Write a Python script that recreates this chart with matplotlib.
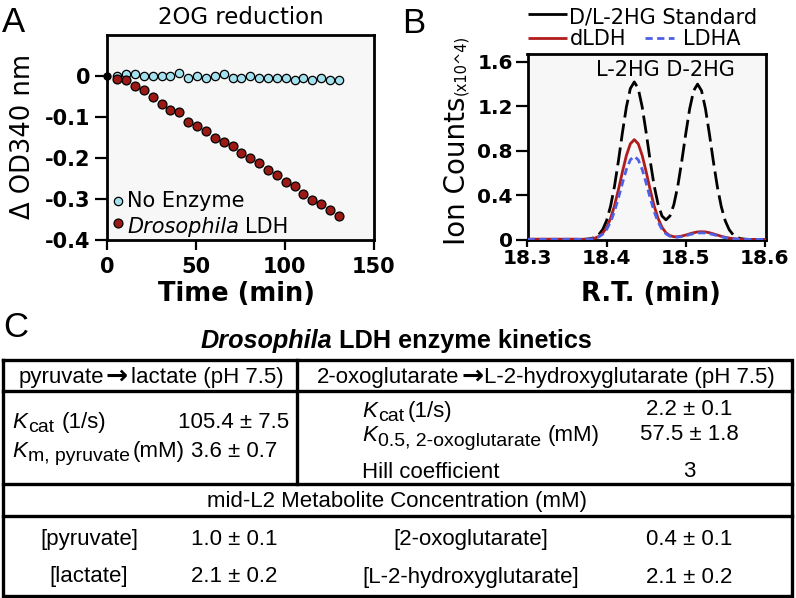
import matplotlib
matplotlib.use("Agg")
import matplotlib.pyplot as plt

plt.rcParams['axes.unicode_minus'] = False
plt.rcParams['font.family'] = ['DejaVu Sans']

# ---------------- Panel A data ----------------
time_min = [5.5, 10.5, 15.5, 20.5, 25.5, 30.5, 35.5, 40.5, 45.5, 50.5, 55.5, 60.5, 65.5,
            70.5, 75.5, 80.5, 85.5, 90.5, 95.5, 100.5, 105.5, 110.5, 115.5, 120.5, 125.5, 130.5]
no_enzyme = [0.001, 0.005, 0.006, -0.001, -0.001, -0.001, -0.001, 0.007, -0.004, -0.001,
             -0.005, -0.001, 0.006, -0.005, -0.005, -0.001, -0.005, -0.005, -0.005, -0.005,
             -0.010, -0.005, -0.010, -0.005, -0.010, -0.010]
dros_ldh = [-0.008, -0.009, -0.024, -0.033, -0.052, -0.068, -0.082, -0.087, -0.112, -0.121,
            -0.133, -0.150, -0.160, -0.171, -0.189, -0.199, -0.212, -0.230, -0.242, -0.259,
            -0.268, -0.287, -0.303, -0.312, -0.328, -0.341]
start_t = [0]
start_v = [0]
a_xticks = [0, 50, 100, 150]
a_xlabels = ['0', '50', '100', '150']
a_yticks = [0, -0.1, -0.2, -0.3, -0.4]
a_ylabels = ['0', '-0.1', '-0.2', '-0.3', '-0.4']

# ---------------- Panel B data ----------------
rt = [18.300, 18.305, 18.310, 18.315, 18.320, 18.325, 18.330, 18.335, 18.340, 18.345,
      18.350, 18.355, 18.360, 18.365, 18.370, 18.375, 18.380, 18.385, 18.390, 18.395,
      18.400, 18.405, 18.410, 18.415, 18.420, 18.425, 18.430, 18.435, 18.440, 18.445,
      18.450, 18.455, 18.460, 18.465, 18.470, 18.475, 18.480, 18.485, 18.490, 18.495,
      18.500, 18.505, 18.510, 18.515, 18.520, 18.525, 18.530, 18.535, 18.540, 18.545,
      18.550, 18.555, 18.560, 18.565, 18.570, 18.575, 18.580, 18.585, 18.590, 18.595,
      18.600, 18.605, 18.610]
standard = [0, 0, 0, 0, 0, 0, 0, 0, 0, 0,
            0, 0, 0, 0.001, 0.001, 0.003, 0.008, 0.019, 0.043, 0.089,
            0.170, 0.300, 0.481, 0.711, 0.963, 1.194, 1.360, 1.420, 1.360, 1.194,
            0.964, 0.714, 0.488, 0.319, 0.212, 0.177, 0.211, 0.314, 0.482, 0.704,
            0.950, 1.177, 1.341, 1.400, 1.341, 1.177, 0.949, 0.701, 0.475, 0.295,
            0.168, 0.088, 0.042, 0.018, 0.007, 0.003, 0.001, 0, 0, 0,
            0, 0, 0]
dldh = [0.003, 0.003, 0.003, 0.003, 0.003, 0.003, 0.003, 0.003, 0.003, 0.003,
        0.003, 0.003, 0.003, 0.002, 0.002, 0.003, 0.005, 0.012, 0.027, 0.057,
        0.108, 0.190, 0.305, 0.451, 0.610, 0.757, 0.862, 0.900, 0.862, 0.757,
        0.610, 0.451, 0.305, 0.191, 0.110, 0.061, 0.035, 0.025, 0.025, 0.031,
        0.040, 0.051, 0.061, 0.068, 0.070, 0.068, 0.061, 0.051, 0.040, 0.029,
        0.020, 0.013, 0.008, 0.004, 0.002, 0.001, 0.001, 0.001, 0.001, 0.001,
        0.001, 0.001, 0.001]
ldha = [0.002, 0.002, 0.002, 0.002, 0.002, 0.002, 0.002, 0.002, 0.002, 0.002,
        0.002, 0.002, 0.002, 0.002, 0.002, 0.002, 0.004, 0.010, 0.023, 0.047,
        0.090, 0.158, 0.254, 0.376, 0.508, 0.631, 0.718, 0.750, 0.718, 0.631,
        0.508, 0.376, 0.254, 0.159, 0.092, 0.051, 0.029, 0.021, 0.021, 0.026,
        0.034, 0.044, 0.052, 0.058, 0.060, 0.058, 0.052, 0.044, 0.034, 0.025,
        0.017, 0.011, 0.007, 0.004, 0.002, 0.001, 0.001, 0.001, 0.001, 0.001,
        0.001, 0.001, 0.001]
b_xticks = [18.3, 18.4, 18.5, 18.6]
b_xlabels = ['18.3', '18.4', '18.5', '18.6']
b_yticks = [0, 0.4, 0.8, 1.2, 1.6]
b_ylabels = ['0', '0.4', '0.8', '1.2', '1.6']

# ---------------- Panel C table content ----------------
table_title = ['Drosophila', 'LDH enzyme kinetics']
header_left = ['pyruvate', '\u2192', 'lactate (pH 7.5)']
header_right = ['2-oxoglutarate', '\u2192', 'L-2-hydroxyglutarate (pH 7.5)']
kin_left_params = [('K', 'cat', '(1/s)'), ('K', 'm, pyruvate', '(mM)')]
kin_left_values = ['105.4 \u00b1 7.5', '3.6 \u00b1 0.7']
kin_right_params = [('K', 'cat', '(1/s)'), ('K', '0.5, 2-oxoglutarate', '(mM)')]
kin_right_extra = 'Hill coefficient'
kin_right_values = ['2.2 \u00b1 0.1', '57.5 \u00b1 1.8', '3']
metab_header = 'mid-L2 Metabolite Concentration (mM)'
metab_left_names = ['[pyruvate]', '[lactate]']
metab_left_values = ['1.0 \u00b1 0.1', '2.1 \u00b1 0.2']
metab_right_names = ['[2-oxoglutarate]', '[L-2-hydroxyglutarate]']
metab_right_values = ['0.4 \u00b1 0.1', '2.1 \u00b1 0.2']

# ---------------- colours ----------------
cyan = '#a3e1ee'
dred = '#9b1a15'
red_line = '#b01c1c'
blue_line = '#4d60e6'
bg = '#f7f7f7'

W, H = 796, 598
fig = plt.figure(figsize=(W / 100, H / 100), dpi=100)


def frame(l, t, r, b):
    return [l / W, 1 - b / H, (r - l) / W, (b - t) / H]


def style_axes(ax):
    ax.set_facecolor(bg)
    for s in ax.spines.values():
        s.set_linewidth(2.0)
        s.set_color('black')


# ---------------- Panel A ----------------
axA = fig.add_axes(frame(107.5, 35, 373.5, 240))
style_axes(axA)
axA.plot(time_min, no_enzyme, 'o', ms=6.0, mfc=cyan, mec='black', mew=0.9,
         clip_on=False, zorder=3)
axA.plot(time_min, dros_ldh, 'o', ms=6.4, mfc=dred, mec='black', mew=0.9,
         clip_on=False, zorder=3)
axA.plot(start_t, start_v, 'o', ms=5, color='black', clip_on=False, zorder=4)
axA.set_xlim(0, 150)
axA.set_ylim(-0.4, 0.1)
axA.set_xticks(a_xticks, a_xlabels, fontsize=15, fontweight='bold')
axA.set_yticks(a_yticks, a_ylabels, fontsize=15, fontweight='bold')
axA.tick_params(axis='x', direction='out', length=7, width=1.6, pad=5)
axA.tick_params(axis='y', direction='out', length=8.5, width=1.6, pad=4)
axA.set_title('2OG reduction', fontsize=16.5, pad=8)
axA.set_xlabel('Time (min)', fontsize=18.5, fontweight='bold')
axA.xaxis.set_label_coords(0.486, -0.2)
axA.set_ylabel('\u0394 OD340 nm', fontsize=18.5)
axA.yaxis.set_label_coords(-0.27, 0.507)

# ---------------- Panel B ----------------
axB = fig.add_axes(frame(527.5, 53.5, 766.0, 239.5))
style_axes(axB)
axB.plot(rt, standard, color='black', lw=2.0, dashes=(6.5, 2.2), zorder=2)
axB.plot(rt, dldh, color=red_line, lw=2.0, zorder=3)
axB.plot(rt, ldha, color=blue_line, lw=2.0, dashes=(2.6, 1.6), zorder=4)
axB.set_xlim(18.3, 18.6015)
axB.set_ylim(0, 1.676)
axB.set_xticks(b_xticks, b_xlabels, fontsize=14.5, fontweight='bold')
axB.set_yticks(b_yticks, b_ylabels, fontsize=14.5, fontweight='bold')
axB.tick_params(axis='x', direction='out', length=5, width=1.6, pad=1.5)
axB.tick_params(axis='y', direction='out', length=9, width=1.6, pad=1.5)
axB.set_xlabel('R.T. (min)', fontsize=18.5, fontweight='bold')
axB.xaxis.set_label_coords(0.518, -0.223)
axB.set_ylabel('Ion Counts', fontsize=20)
axB.yaxis.set_label_coords(-0.235, 0.371)

# ---------------- overlay (pixel coordinates) ----------------
ov = fig.add_axes([0, 0, 1, 1], zorder=10)
ov.set_xlim(0, W)
ov.set_ylim(H, 0)
ov.axis('off')
ov.patch.set_alpha(0)
renderer = fig.canvas.get_renderer()


def runs(x, y, parts, ha='left', **common):
    """Place consecutive text runs; numbers in parts are gaps in pixels."""
    objs = []
    cur = x
    for p in parts:
        if isinstance(p, (int, float)):
            cur += p
            continue
        s, kw = p
        kw2 = dict(common)
        kw2.update(kw)
        dy = kw2.pop('dy', 0)
        t = ov.text(cur, y + dy, s, ha='left', va='baseline', **kw2)
        cur += t.get_window_extent(renderer).width
        objs.append(t)
    if ha == 'center':
        shift = (cur - x) / 2
        for t in objs:
            px, py = t.get_position()
            t.set_x(px - shift)
    return objs


# panel letters
TF = 'Liberation Sans'
ov.text(2, 32, 'A', fontsize=25, family=TF, va='baseline')
ov.text(402, 33, 'B', fontsize=25, family=TF, va='baseline')
ov.text(3, 337, 'C', fontsize=25, family=TF, va='baseline')

# Panel A legend
ov.plot([118], [200.7], 'o', ms=6.0, mfc=cyan, mec='black', mew=0.9)
ov.plot([118.3], [223.3], 'o', ms=6.4, mfc=dred, mec='black', mew=0.9)
ov.text(127, 207, 'No Enzyme', fontsize=15, va='baseline')
runs(127, 233, [('Drosophila', {'style': 'italic'}), 6, ('LDH', {})], fontsize=15)

# Panel B legend
ov.plot([528, 567], [14.3, 14.3], color='black', lw=2.0, solid_capstyle='butt')
ov.text(569, 23.3, 'D/L-2HG Standard', fontsize=15, va='baseline')
ov.plot([528, 567], [38.3, 38.3], color=red_line, lw=2.0, solid_capstyle='butt')
ov.text(570, 45, 'dLDH', fontsize=15, va='baseline')
ov.plot([645, 674], [38.3, 38.3], color=blue_line, lw=2.0, dashes=(2.6, 1.6))
ov.text(683, 45, 'LDHA', fontsize=15, va='baseline')
ov.text(665, 75.7, 'L-2HG D-2HG', fontsize=15, ha='center', va='baseline')
ov.text(461, 65, '(x10^4)', fontsize=10.5, rotation=90, ha='center', va='center')

# ---------------- Panel C table ----------------
LW = 2.4
ov.plot([3, 792, 792, 3, 3], [359.5, 359.5, 596, 596, 359.5], color='black', lw=LW,
        solid_joinstyle='miter')
for yy in (391, 484, 516):
    ov.plot([3, 792], [yy, yy], color='black', lw=LW)
ov.plot([297, 297], [359.5, 484], color='black', lw=LW)

FS = 16
SUB = 14
ARROW = {'family': 'DejaVu Sans', 'weight': 'bold', 'fontsize': 19, 'dy': 1}
runs(396, 348, [(table_title[0], {'style': 'italic', 'weight': 'bold'}), 7,
                (table_title[1], {'weight': 'bold'})],
     ha='center', fontsize=18.2, family=TF)
runs(151, 383, [(header_left[0], {}), 2, (header_left[1], ARROW), 3,
                (header_left[2], {})], ha='center', fontsize=FS, family=TF)
runs(546, 383, [(header_right[0], {}), 2, (header_right[1], ARROW), 1,
                (header_right[2], {})], ha='center', fontsize=FS, family=TF)

# left kinetics
left_rows = [(428, 62), (456.7, 133)]
for (k, sub, unit), (base, ux), val in zip(kin_left_params, left_rows, kin_left_values):
    ov.text(12, base, k, fontsize=FS, family=TF, style='italic', va='baseline')
    ov.text(28, base + 4.5, sub, fontsize=SUB, family=TF, va='baseline')
    ov.text(ux, base, unit, fontsize=FS, family=TF, va='baseline')
    ov.text(234, base, val, fontsize=FS, family=TF, ha='center', va='baseline')

# right kinetics
right_rows = [(416.7, 408), (441, 548)]
for (k, sub, unit), (base, ux) in zip(kin_right_params, right_rows):
    ov.text(362, base, k, fontsize=FS, family=TF, style='italic', va='baseline')
    ov.text(378, base + 4.5, sub, fontsize=SUB, family=TF, va='baseline')
    ov.text(ux, base, unit, fontsize=FS, family=TF, va='baseline')
ov.text(362, 478, kin_right_extra, fontsize=FS, family=TF, va='baseline')
for base, val in zip([415, 440, 477], kin_right_values):
    ov.text(689, base, val, fontsize=FS, family=TF, ha='center', va='baseline')

ov.text(397, 507, metab_header, fontsize=FS, family=TF, ha='center', va='baseline')
for base, nm, val in zip([545, 582], metab_left_names, metab_left_values):
    ov.text(89, base, nm, fontsize=FS, family=TF, ha='center', va='baseline')
    ov.text(234, base, val, fontsize=FS, family=TF, ha='center', va='baseline')
for base, nm, val in zip([545, 583], metab_right_names, metab_right_values):
    ov.text(471, base, nm, fontsize=FS, family=TF, ha='center', va='baseline')
    ov.text(689, base, val, fontsize=FS, family=TF, ha='center', va='baseline')

fig.savefig('out.png', dpi=100)
